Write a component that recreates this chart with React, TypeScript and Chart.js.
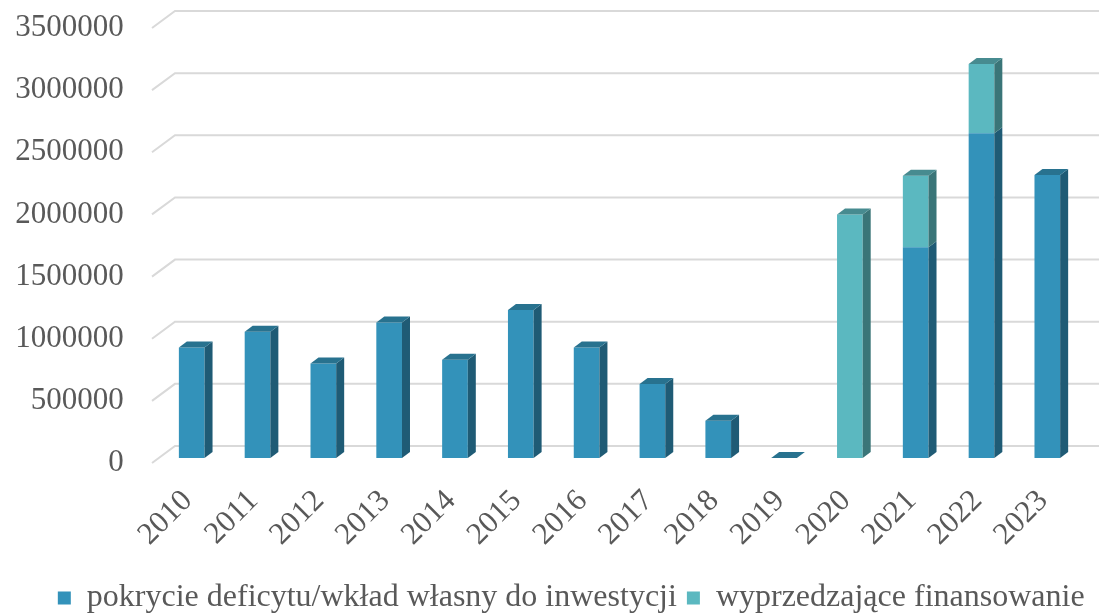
import React, { useEffect, useRef } from "react";
import { Chart, registerables } from "chart.js";

Chart.register(...registerables);

const categories = ["2010", "2011", "2012", "2013", "2014", "2015", "2016", "2017", "2018", "2019", "2020", "2021", "2022", "2023"];
const deficitValues = [890000, 1015000, 760000, 1090000, 790000, 1190000, 890000, 595000, 300000, 0, 0, 1695000, 2612000, 2277000];
const advanceValues = [0, 0, 0, 0, 0, 0, 0, 0, 0, 0, 1960000, 575000, 558000, 0];
const seriesNames = ["pokrycie deficytu/wkład własny do inwestycji", "wyprzedzające finansowanie"];
const yMax = 3500000;
const yStep = 500000;

const FRONT = ["#3392BA", "#5BB8C0"];
const SIDE = ["#1F5B75", "#3A7578"];
const TOP = ["#28728F", "#478B90"];

const FONT = "'Liberation Serif', 'Times New Roman', serif";
const TEXT = "#595959";
const DX = 8;
const DY = 6;
const LEGEND_SHIFT = 27;

const wallPlugin = {
  id: "wall",
  beforeDatasetsDraw(chart: any) {
    const ctx = chart.ctx;
    const scale = chart.scales.y;
    ctx.save();
    ctx.strokeStyle = "#D9D9D9";
    ctx.lineWidth = 2;
    scale.ticks.forEach((t: any) => {
      const yf = scale.getPixelForValue(t.value);
      ctx.beginPath();
      ctx.moveTo(152, yf + 5);
      ctx.lineTo(175, yf - 12);
      ctx.lineTo(chart.width, yf - 12);
      ctx.stroke();
    });
    ctx.restore();
  },
};

const legendShiftPlugin = {
  id: "legendShift",
  afterLayout(chart: any) {
    if (chart.legend) {
      chart.legend.left += LEGEND_SHIFT;
      chart.legend.right += LEGEND_SHIFT;
    }
  },
};

const depthPlugin = {
  id: "depth",
  afterDatasetsDraw(chart: any) {
    const ctx = chart.ctx;
    const dsets = chart.data.datasets;
    ctx.save();
    dsets.forEach((ds: any, di: number) => {
      const meta = chart.getDatasetMeta(di);
      meta.data.forEach((bar: any, i: number) => {
        const p = bar.getProps(["x", "y", "base", "width"], true);
        const left = p.x - p.width / 2;
        const right = p.x + p.width / 2;
        const top = Math.min(p.y, p.base);
        const bottom = Math.max(p.y, p.base);
        if (bottom - top > 0.5) {
          ctx.fillStyle = SIDE[di];
          ctx.beginPath();
          ctx.moveTo(right, top);
          ctx.lineTo(right + DX, top - DY);
          ctx.lineTo(right + DX, bottom - DY);
          ctx.lineTo(right, bottom);
          ctx.closePath();
          ctx.fill();
        }
        let topIdx = -1;
        for (let k = dsets.length - 1; k >= 0; k--) {
          if (dsets[k].data[i] > 0) { topIdx = k; break; }
        }
        if (topIdx === -1) topIdx = 0;
        if (topIdx === di) {
          ctx.fillStyle = TOP[di];
          ctx.beginPath();
          ctx.moveTo(left, top);
          ctx.lineTo(left + DX, top - DY);
          ctx.lineTo(right + DX, top - DY);
          ctx.lineTo(right, top);
          ctx.closePath();
          ctx.fill();
        }
      });
    });
    ctx.restore();
  },
};

export default function App() {
  const ref = useRef<HTMLCanvasElement | null>(null);
  useEffect(() => {
    document.body.style.margin = "0";
    const canvas = ref.current;
    if (!canvas) return;
    const chart = new Chart(canvas, {
      type: "bar",
      data: {
        labels: categories,
        datasets: [
          { label: seriesNames[0], data: deficitValues, backgroundColor: FRONT[0], borderWidth: 0, barPercentage: 0.39, categoryPercentage: 1 },
          { label: seriesNames[1], data: advanceValues, backgroundColor: FRONT[1], borderWidth: 0, barPercentage: 0.39, categoryPercentage: 1 },
        ],
      },
      options: {
        responsive: false,
        animation: false,
        devicePixelRatio: 1,
        layout: { padding: { top: 23, right: 10.6, left: 0, bottom: -8 } },
        plugins: {
          legend: {
            position: "bottom",
            labels: {
              boxWidth: 13,
              boxHeight: 13,
              padding: 10,
              color: TEXT,
              font: { family: FONT, size: 32 },
            },
          },
          tooltip: { enabled: false },
        },
        scales: {
          x: {
            stacked: true,
            grid: { display: false, drawTicks: false },
            border: { display: false },
            ticks: {
              autoSkip: false,
              minRotation: 45,
              maxRotation: 45,
              padding: 25,
              labelOffset: -4,
              color: TEXT,
              font: { family: FONT, size: 31 },
            },
            afterFit(scale: any) {
              scale.height = 114;
            },
          },
          y: {
            stacked: true,
            min: 0,
            max: yMax,
            grid: { display: false, drawTicks: false },
            border: { display: false },
            ticks: {
              stepSize: yStep,
              padding: 35,
              labelOffset: 5,
              color: TEXT,
              font: { family: FONT, size: 31 },
              callback: (v: any) => String(v),
            },
            afterFit(scale: any) {
              scale.width = 158.8;
              scale.paddingTop = 0;
              scale.paddingBottom = 0;
            },
          },
        },
      },
      plugins: [wallPlugin, depthPlugin, legendShiftPlugin],
    } as any);
    return () => chart.destroy();
  }, []);
  return <canvas ref={ref} width={1099} height={616} style={{ display: "block" }} />;
}
